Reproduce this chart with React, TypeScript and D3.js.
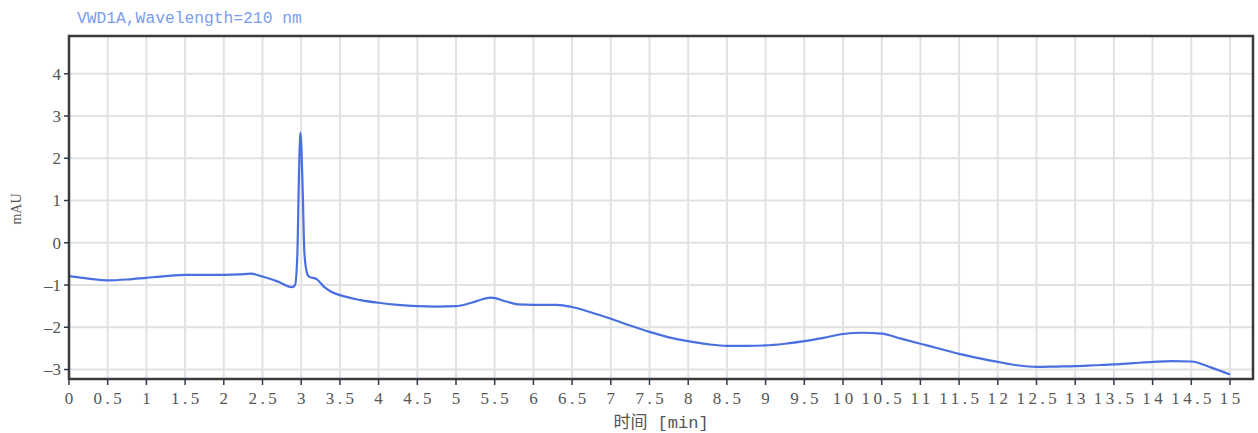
import React from "react";
import * as d3 from "d3";

const times = [0, 0.25, 0.5, 0.75, 1, 1.25, 1.5, 1.75, 2, 2.2, 2.35, 2.5, 2.7, 2.88, 2.92, 2.95, 2.97, 2.99, 3.02, 3.04, 3.07, 3.1, 3.2, 3.3, 3.4, 3.5, 3.75, 4, 4.25, 4.5, 4.75, 5, 5.2, 5.45, 5.65, 5.8, 6, 6.3, 6.5, 6.75, 7, 7.25, 7.5, 7.75, 8, 8.25, 8.5, 8.75, 9, 9.25, 9.5, 9.75, 10, 10.25, 10.5, 10.75, 11, 11.25, 11.5, 11.75, 12, 12.25, 12.5, 12.75, 13, 13.25, 13.5, 13.75, 14, 14.25, 14.5, 14.75, 15];
const signal = [-0.79, -0.85, -0.89, -0.87, -0.83, -0.79, -0.76, -0.76, -0.76, -0.75, -0.73, -0.8, -0.92, -1.05, -1.0, -0.3, 1.5, 2.61, 1.2, -0.2, -0.68, -0.8, -0.86, -1.05, -1.17, -1.24, -1.35, -1.42, -1.47, -1.5, -1.51, -1.5, -1.42, -1.3, -1.39, -1.46, -1.47, -1.47, -1.52, -1.65, -1.8, -1.96, -2.11, -2.24, -2.33, -2.4, -2.44, -2.44, -2.43, -2.39, -2.33, -2.25, -2.16, -2.13, -2.15, -2.27, -2.39, -2.51, -2.63, -2.73, -2.82, -2.9, -2.94, -2.93, -2.92, -2.9, -2.88, -2.85, -2.82, -2.8, -2.81, -2.95, -3.12];

const xTicks = d3.range(0, 15.001, 0.5);
const yTicks = [4, 3, 2, 1, 0, -1, -2, -3];
const title = "VWD1A,Wavelength=210 nm";
const xLabel = "时间 [min]";
const yLabel = "mAU";

export default function App() {
  const W = 1258, H = 433;
  const left = 69, right = 1253, top = 36, bottom = 379;
  const x = d3.scaleLinear().domain([0, 15]).range([left, 1230]);
  const y = d3.scaleLinear().domain([-3, 4]).range([369.5, 73.8]);
  const pts: [number, number][] = times.map((t, i) => [t, signal[i]]);
  const line = d3.line<[number, number]>().x(d => x(d[0])).y(d => y(d[1])).curve(d3.curveMonotoneX);
  const fmt = (v: number) => (Number.isInteger(v) ? String(v) : v.toFixed(1));
  const labelFont = "'Liberation Serif', 'DejaVu Serif', serif";
  const ls = 3.5;
  return (
    <svg width={W} height={H} style={{ position: "absolute", left: 0, top: 0, background: "#fff" }}>
      <rect x={0} y={0} width={W} height={H} fill="#fff" />
      <text x={77} y={23} fontFamily="'Liberation Mono', monospace" fontSize={16.3} fill="#7a9cf0">{title}</text>
      {xTicks.map(t => (
        <line key={"gx" + t} x1={x(t)} x2={x(t)} y1={top} y2={bottom} stroke="#e2e2e2" strokeWidth={2} />
      ))}
      {yTicks.map(v => (
        <line key={"gy" + v} x1={left} x2={right} y1={y(v)} y2={y(v)} stroke="#e2e2e2" strokeWidth={2} />
      ))}
      <path d={line(pts) || ""} fill="none" stroke="#4a6fe0" strokeWidth={2.2} strokeLinejoin="round" />
      <rect x={left} y={top} width={right - left} height={bottom - top} fill="none" stroke="#3a3a3a" strokeWidth={2.5} />
      {yTicks.map(v => (
        <g key={"ty" + v}>
          <line x1={left - 5} x2={left} y1={y(v)} y2={y(v)} stroke="#2c3a4e" strokeWidth={1.5} />
          <text x={left - 8} y={y(v)} dy="0.35em" textAnchor="end" fontFamily={labelFont} fontSize={17} fill="#555">
            {v < 0 ? "\u2013" + Math.abs(v) : String(v)}
          </text>
        </g>
      ))}
      {xTicks.map(t => (
        <g key={"tx" + t}>
          <line x1={x(t)} x2={x(t)} y1={bottom} y2={bottom + 6} stroke="#2c3a4e" strokeWidth={1.5} />
          <text x={x(t) + ls / 2} y={404} textAnchor="middle" fontFamily={labelFont} fontSize={17} fill="#555" letterSpacing={ls}>
            {fmt(t)}
          </text>
        </g>
      ))}
      <text transform="translate(21,209) rotate(-90)" textAnchor="middle" fontFamily={labelFont} fontSize={14} fill="#555">{yLabel}</text>
      <text x={661} y={428} textAnchor="middle" fontFamily="'Liberation Mono', 'Noto Sans CJK SC', monospace" fontSize={17} fill="#555">{xLabel}</text>
    </svg>
  );
}
